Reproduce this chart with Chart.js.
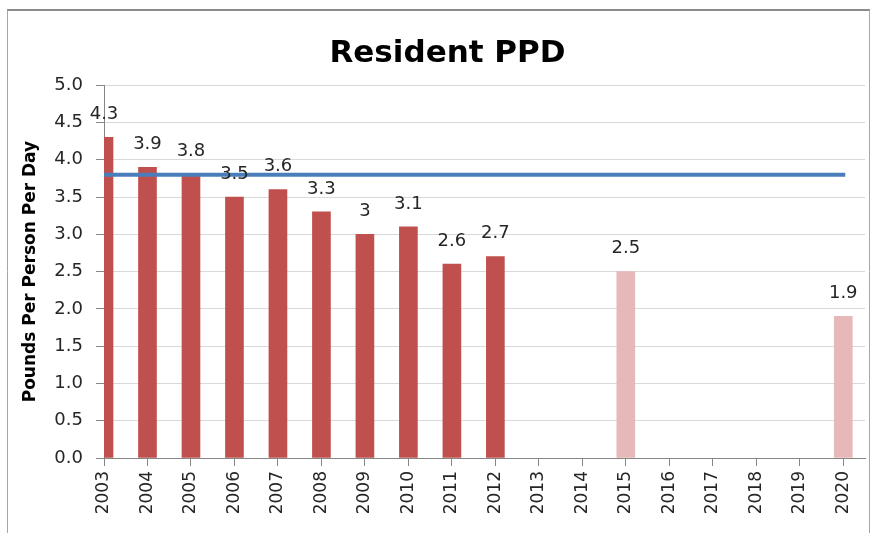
<!DOCTYPE html>
<html>
<head>
<meta charset="utf-8">
<script src="https://cdn.jsdelivr.net/npm/chart.js@4/dist/chart.umd.min.js"></script>
<style>
  html, body { margin: 0; padding: 0; background: #ffffff; }
  #wrap { position: relative; width: 876px; height: 533px; }
</style>
</head>
<body>
<div id="wrap"><canvas id="c" width="876" height="533"></canvas></div>
<script>
// ---- data ----
const years = [2003, 2004, 2005, 2006, 2007, 2008, 2009, 2010, 2011, 2012, 2013, 2014, 2015, 2016, 2017, 2018, 2019, 2020];
const actualYears = [2003, 2004, 2005, 2006, 2007, 2008, 2009, 2010, 2011, 2012];
const actualPPD = [4.3, 3.9, 3.8, 3.5, 3.6, 3.3, 3, 3.1, 2.6, 2.7];
const projectedYears = [2015, 2020];
const projectedPPD = [2.5, 1.9];
const goalPPD = [3.8, 3.8, 3.8, 3.8, 3.8, 3.8, 3.8, 3.8, 3.8, 3.8, 3.8, 3.8, 3.8, 3.8, 3.8, 3.8, 3.8, 3.8];
const yTickValues = [0, 0.5, 1, 1.5, 2, 2.5, 3, 3.5, 4, 4.5, 5];
const chartTitle = 'Resident PPD';
const yAxisTitle = 'Pounds Per Person Per Day';

const toPoints = (xs, ys) => xs.map((x, i) => ({ x: x, y: ys[i] }));

const frame = {
  id: 'frame',
  beforeDraw(chart) {
    const ctx = chart.ctx;
    ctx.save();
    ctx.fillStyle = '#ffffff';
    ctx.fillRect(0, 0, chart.width, chart.height);
    ctx.strokeStyle = '#8c8c8c';
    ctx.lineWidth = 2;
    ctx.beginPath();
    ctx.moveTo(7, 10); ctx.lineTo(870, 10);
    ctx.stroke();
    ctx.strokeStyle = '#a6a6a6';
    ctx.lineWidth = 1;
    ctx.beginPath();
    ctx.moveTo(7.5, 10); ctx.lineTo(7.5, 533);
    ctx.moveTo(869.5, 10); ctx.lineTo(869.5, 533);
    ctx.stroke();
    ctx.restore();
  }
};

const barLabels = {
  id: 'barLabels',
  afterDatasetsDraw(chart) {
    const ctx = chart.ctx;
    ctx.save();
    ctx.font = '18px "DejaVu Sans"';
    ctx.fillStyle = '#262626';
    ctx.textAlign = 'center';
    ctx.textBaseline = 'middle';
    chart.data.datasets.forEach((ds, di) => {
      if (ds.type !== 'bar') return;
      const meta = chart.getDatasetMeta(di);
      meta.data.forEach((el, i) => {
        const v = ds.data[i].y;
        ctx.fillText(String(v), el.x, el.y - 23);
      });
    });
    ctx.restore();
  }
};

new Chart(document.getElementById('c'), {
  data: {
    datasets: [
      {
        type: 'line',
        label: 'Goal',
        data: toPoints(years, goalPPD),
        borderColor: '#4A7EBB',
        borderWidth: 4,
        borderCapStyle: 'square',
        pointRadius: 0,
        fill: false,
        order: 0
      },
      {
        type: 'bar',
        label: 'Actual',
        data: toPoints(actualYears, actualPPD),
        backgroundColor: '#C0504D',
        barThickness: 18,
        grouped: false,
        clip: 0,
        order: 1
      },
      {
        type: 'bar',
        label: 'Projected',
        data: toPoints(projectedYears, projectedPPD),
        backgroundColor: '#E6B9B8',
        barThickness: 18,
        grouped: false,
        clip: 0,
        order: 2
      }
    ]
  },
  options: {
    responsive: false,
    animation: false,
    layout: { padding: { top: 35, left: 30, right: 11, bottom: 0 } },
    plugins: {
      legend: { display: false },
      tooltip: { enabled: false },
      title: {
        display: true,
        text: chartTitle,
        color: '#000000',
        font: { family: 'DejaVu Sans', size: 31, weight: 'bold' },
        padding: { top: 0, bottom: 13 }
      }
    },
    scales: {
      x: {
        type: 'linear',
        offset: false,
        min: 2003,
        max: 2020.5,
        afterBuildTicks: (scale) => { scale.ticks = years.map(v => ({ value: v })); },
        afterFit: (scale) => { scale.height = 75; },
        grid: { offset: false, drawOnChartArea: false, drawTicks: true, tickLength: 8, tickColor: '#868686' },
        border: { color: '#868686', width: 1 },
        ticks: {
          autoSkip: false,
          minRotation: 90,
          maxRotation: 90,
          padding: 5,
          color: '#262626',
          font: { family: 'DejaVu Sans', size: 17 },
          callback: (v) => String(v)
        }
      },
      y: {
        min: 0,
        max: 5,
        afterBuildTicks: (scale) => { scale.ticks = yTickValues.map(v => ({ value: v })); },
        afterFit: (scale) => { scale.width = 74; },
        grid: { color: '#D9D9D9', lineWidth: 1, tickLength: 8, tickColor: '#868686' },
        border: { color: '#868686', width: 1 },
        ticks: {
          padding: 13,
          color: '#262626',
          font: { family: 'DejaVu Sans', size: 18 },
          callback: (v) => Number(v).toFixed(1)
        },
        title: {
          display: true,
          text: yAxisTitle,
          color: '#000000',
          font: { family: 'DejaVu Sans', size: 17, weight: 'bold' },
          padding: { top: -10, bottom: 0 }
        }
      }
    }
  },
  plugins: [frame, barLabels]
});
</script>
</body>
</html>
